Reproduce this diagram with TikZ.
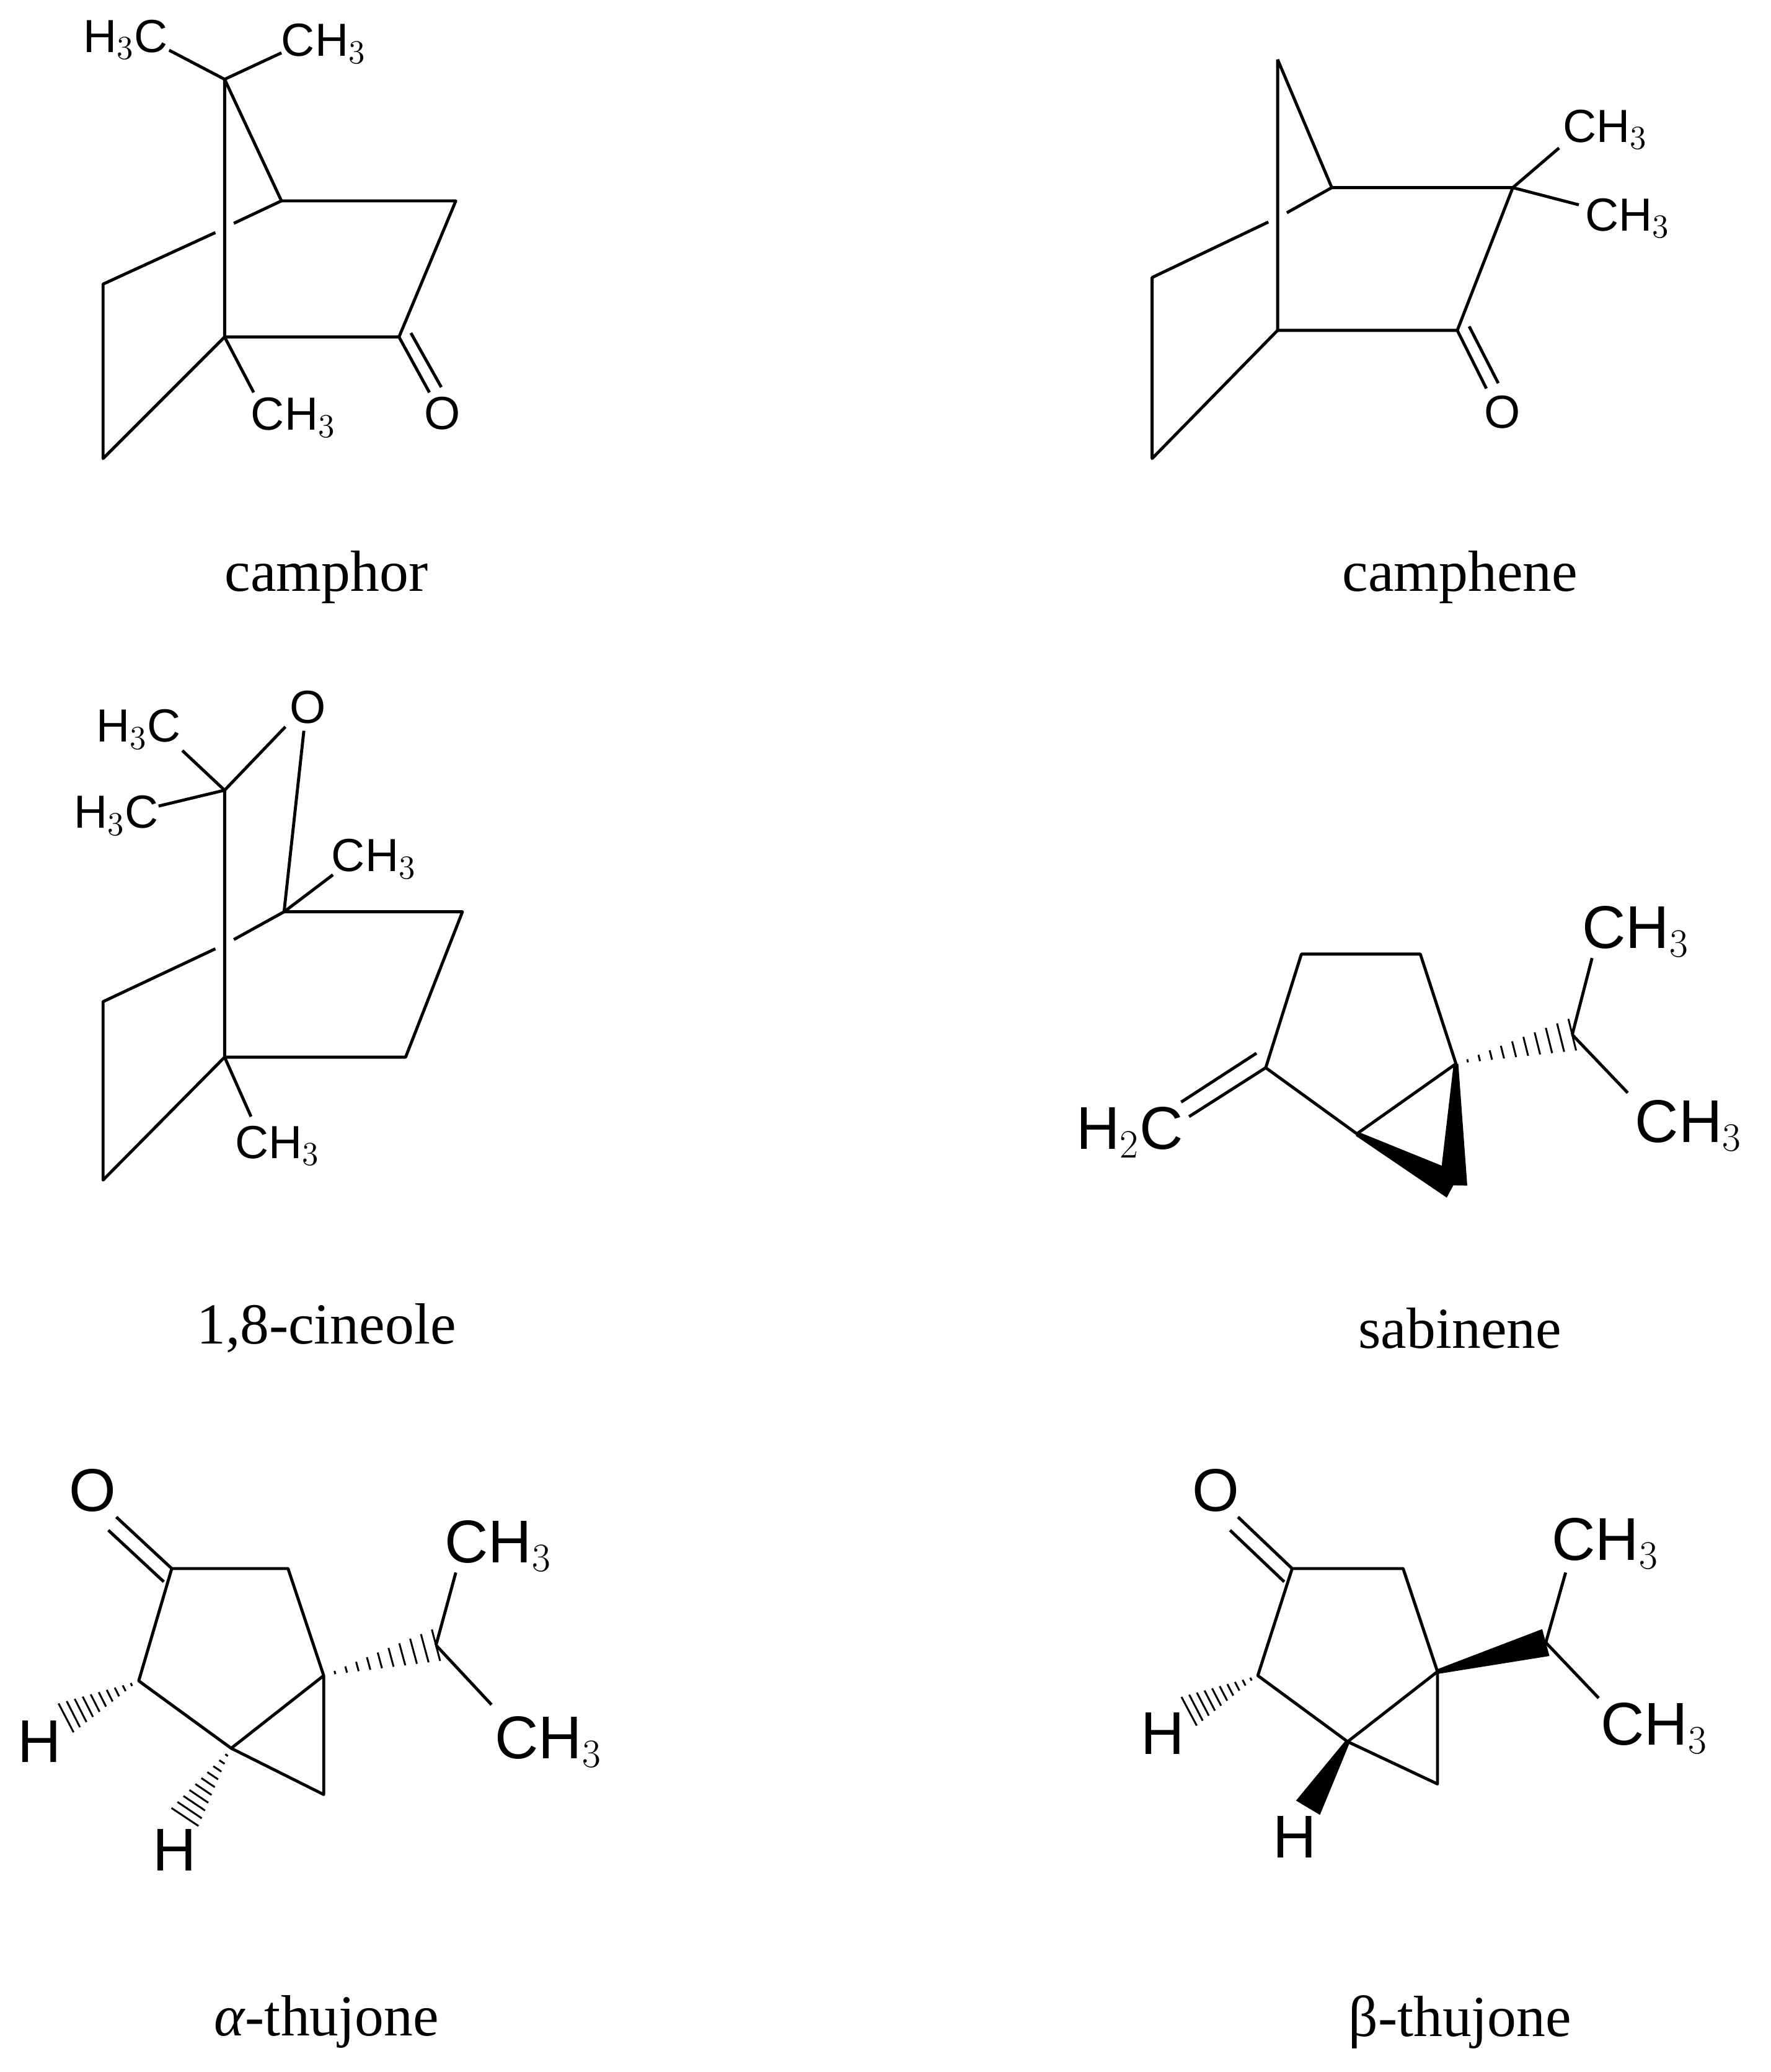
\documentclass[tikz,border=0pt]{standalone}
\usepackage{fontspec}
\newfontfamily\arial{Liberation Sans}
\newfontfamily\serifn{Liberation Serif}
\usetikzlibrary{calc}
\newcommand\hb[2]{\foreach \t in {0.1,0.2,...,1.0}{\draw[line width=0.8pt] ($(#1)!\t!(#2)!{\t*7pt}!90:(#2)$) -- ($(#1)!\t!(#2)!{\t*7pt}!-90:(#2)$);}}
\newcommand\wb[2]{\fill ($(#1)!1pt!90:(#2)$) -- ($(#1)!1pt!-90:(#2)$) -- ($(#2)!6pt!90:(#1)$) -- ($(#2)!6pt!-90:(#1)$) -- cycle;}
\begin{document}
\begin{tikzpicture}[x=0.02cm,y=-0.02cm,line width=1.3pt,line join=round,
 lab/.style={font=\arial\fontsize{20}{20}\selectfont,inner sep=0pt},
 labb/.style={font=\arial\fontsize{26}{26}\selectfont,inner sep=0pt},
 nm/.style={font=\serifn\fontsize{25}{25}\selectfont}]
\useasboundingbox (0,0) rectangle (1340,1568);
% camphor
\coordinate (a7) at (170,60); \coordinate (a1) at (170,255); \coordinate (a4) at (213,152);
\coordinate (a3) at (345,152); \coordinate (a2) at (302,255); \coordinate (a6) at (78,347); \coordinate (a5) at (78,215);
\draw (a7)--(a1)--(a2)--(a3)--(a4)--(a7); \draw (a1)--(a6)--(a5)--(163,176); \draw (177,169)--(a4);
\draw (a7)--(128,38); \draw (a7)--(213,40); \draw (a1)--(192,297);
\draw (a2)--(325,297); \draw (311,252)--(334,293);
\node[lab] at (95,30) {H$_3$C}; \node[lab] at (245,33) {CH$_3$};
\node[lab] at (222,316) {CH$_3$}; \node[lab] at (335,313) {O};
\node[nm] (n1) at (247,437) {camphor};
% camphene
\coordinate (b7) at (967,45); \coordinate (b1) at (967,250); \coordinate (b4) at (1008,142);
\coordinate (b3) at (1145,142); \coordinate (b2) at (1103,250); \coordinate (b6) at (872,347); \coordinate (b5) at (872,210);
\draw (b7)--(b1)--(b2)--(b3)--(b4)--(b7); \draw (b1)--(b6)--(b5)--(960,168); \draw (974,161)--(b4);
\draw (b3)--(1180,112); \draw (b3)--(1195,155);
\draw (b2)--(1125,294); \draw (1112,247)--(1134,290);
\node[lab] at (1215,98) {CH$_3$}; \node[lab] at (1232,165) {CH$_3$}; \node[lab] at (1137,312) {O};
\node[nm] (n2) at (1105,437) {camphene};
% cineole
\coordinate (c1) at (170,598); \coordinate (c2) at (215,690); \coordinate (c3) at (350,690);
\coordinate (c4) at (307,800); \coordinate (c5) at (170,800); \coordinate (c6) at (78,893); \coordinate (c7) at (78,758);
\draw (c1)--(c5)--(c4)--(c3)--(c2); \draw (c5)--(c6)--(c7)--(163,718); \draw (177,711)--(c2);
\draw (c1)--(138,568); \draw (c1)--(120,610); \draw (c1)--(216,550); \draw (230,553)--(c2);
\draw (c2)--(252,662); \draw (c5)--(190,845);
\node[lab] at (105,552) {H$_3$C}; \node[lab] at (88,617) {H$_3$C}; \node[lab] at (233,535) {O};
\node[lab] at (283,650) {CH$_3$}; \node[lab] at (210,867) {CH$_3$};
\node[nm] (n3) at (247,1005) {1,8-cineole};
% sabinene
\coordinate (s1) at (985,722); \coordinate (s2) at (1075,722); \coordinate (s3) at (1102,805);
\coordinate (s4) at (1027,858); \coordinate (s5) at (958,808); \coordinate (s6) at (1100,897); \coordinate (s7) at (1190,783);
\draw (s1)--(s2)--(s3)--(s4)--(s5)--cycle;
\wb{s3}{s6} \wb{s4}{s6}
\hb{s3}{s7} \draw (s7)--(1205,725); \draw (s7)--(1232,827);
\draw (s5)--(900,845); \draw (951,797)--(894,834);
\node[labb] at (1238,705) {CH$_3$}; \node[labb] at (1278,852) {CH$_3$}; \node[labb] at (855,857) {H$_2$C};
\node[nm] (n4) at (1105,1005) {sabinene};
% alpha-thujone
\coordinate (t1) at (130,1187); \coordinate (t2) at (218,1187); \coordinate (t3) at (245,1268);
\coordinate (t4) at (175,1323); \coordinate (t5) at (105,1272); \coordinate (t6) at (245,1358); \coordinate (t7) at (330,1245);
\draw (t1)--(t2)--(t3)--(t4)--(t5)--cycle; \draw (t4)--(t6)--(t3);
\draw (t1)--(88,1148); \draw (124,1197)--(82,1158);
\hb{t3}{t7} \draw (t7)--(345,1190); \draw (t7)--(372,1290);
\hb{t5}{50,1300} \hb{t4}{140,1375}
\node[labb] at (70,1128) {O}; \node[labb] at (377,1170) {CH$_3$}; \node[labb] at (415,1318) {CH$_3$};
\node[labb] at (30,1318) {H}; \node[labb] at (132,1400) {H};
\node[nm] (n5) at (247,1530) {\textit{α}-thujone};
% beta-thujone
\coordinate (u1) at (978,1187); \coordinate (u2) at (1062,1187); \coordinate (u3) at (1088,1265);
\coordinate (u4) at (1020,1318); \coordinate (u5) at (952,1268); \coordinate (u6) at (1088,1350); \coordinate (u7) at (1170,1243);
\draw (u1)--(u2)--(u3)--(u4)--(u5)--cycle; \draw (u4)--(u6)--(u3);
\draw (u1)--(937,1148); \draw (972,1197)--(931,1158);
\wb{u3}{u7} \draw (u7)--(1185,1190); \draw (u7)--(1210,1285);
\hb{u5}{900,1295} \wb{u4}{990,1368}
\node[labb] at (920,1128) {O}; \node[labb] at (1215,1168) {CH$_3$}; \node[labb] at (1252,1308) {CH$_3$};
\node[labb] at (880,1312) {H}; \node[labb] at (980,1390) {H};
\node[nm] (n6) at (1105,1530) {β-thujone};
\end{tikzpicture}
\end{document}
